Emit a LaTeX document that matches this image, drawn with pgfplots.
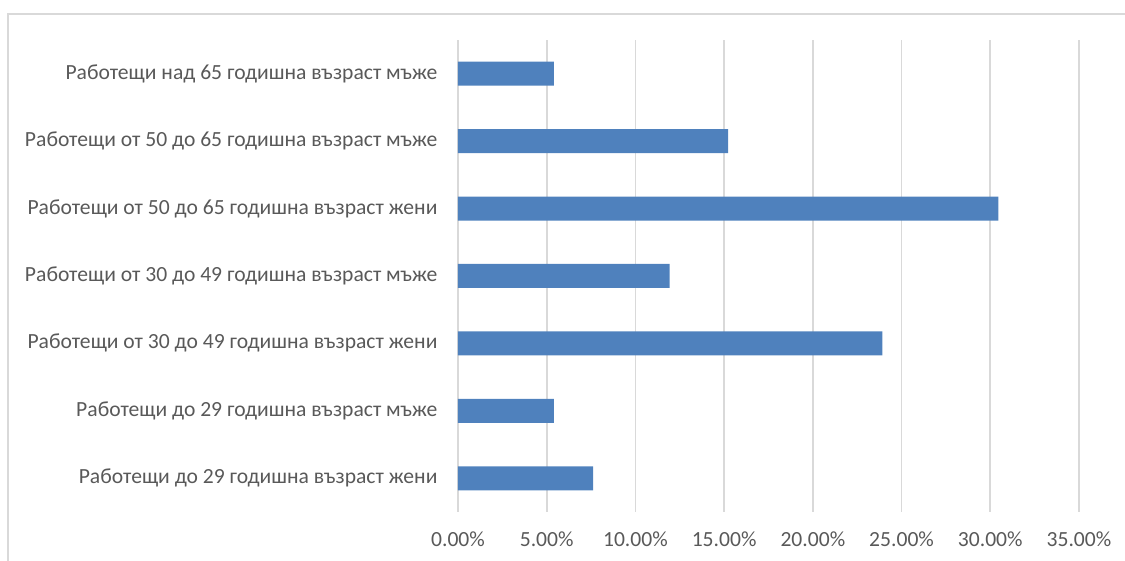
\documentclass[border=0pt]{standalone}
\usepackage{pgfplots}
\pgfplotsset{compat=1.18}
\usepackage{fontspec}
\setmainfont{Carlito}
\definecolor{barblue}{HTML}{4F81BD}
\definecolor{gridgray}{HTML}{D9D9D9}
\definecolor{labelgray}{HTML}{595959}
\begin{document}
\begin{tikzpicture}
\useasboundingbox (0,0) rectangle (562.5pt,280.5pt);
% chart area frame (only top and left edges are visible in the reference)
\draw[gridgray, line width=1.2pt] (4pt,0) -- (4pt,273.5pt) -- (562.5pt,273.5pt);
\begin{axis}[
  at={(229pt,24.5pt)}, anchor=south west,
  scale only axis, width=310.5pt, height=236pt,
  xbar, bar width=12pt,
  xmin=0, xmax=35, ymin=-0.5, ymax=6.5,
  xtick={0,5,...,35}, ytick={0,...,6},
  yticklabels={
    Работещи до 29 годишна възраст жени,
    Работещи до 29 годишна възраст мъже,
    Работещи от 30 до 49 годишна възраст жени,
    Работещи от 30 до 49 годишна възраст мъже,
    Работещи от 50 до 65 годишна възраст жени,
    Работещи от 50 до 65 годишна възраст мъже,
    Работещи над 65 годишна възраст мъже},
  xmajorgrids, major grid style={gridgray, line width=0.8pt},
  axis line style={draw=none}, tick style={draw=none},
  ticklabel style={font=\fontsize{10.8}{13}\selectfont, text=labelgray},
  /pgf/number format/assume math mode=true,
  xticklabel={\pgfmathprintnumber[fixed,fixed zerofill,precision=2]{\tick}\%},
  xticklabel style={yshift=-6.5pt},
  yticklabel style={xshift=-2.5pt},
]
\addplot[fill=barblue, draw=none] coordinates {
  (7.61,0) (5.41,1) (23.92,2) (11.93,3) (30.46,4) (15.22,5) (5.41,6)};
\end{axis}
\end{tikzpicture}
\end{document}
